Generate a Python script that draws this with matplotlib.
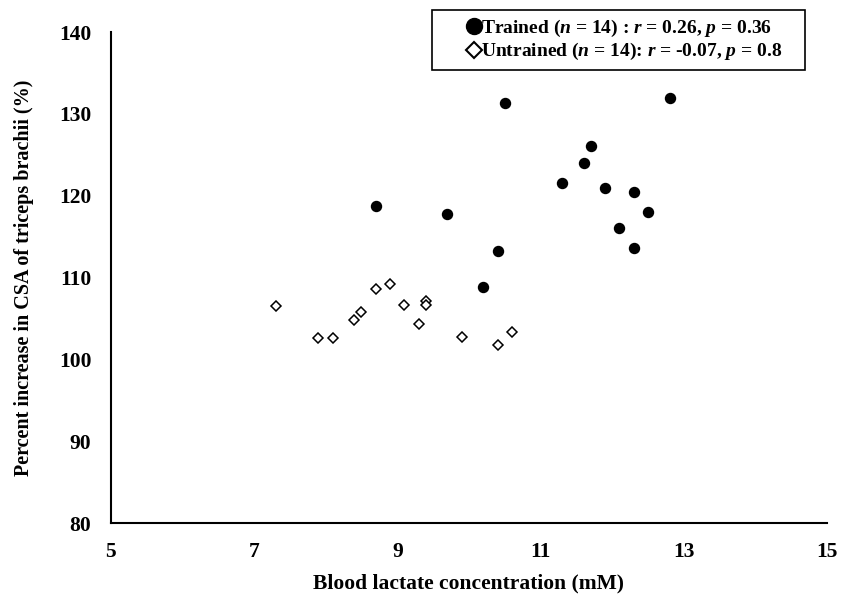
import matplotlib.pyplot as plt
from matplotlib.lines import Line2D

# trained group
trained_lactate = [8.7, 9.7, 10.5, 10.4, 10.2, 11.3, 11.6, 11.7, 11.9, 12.1, 12.3, 12.3, 12.5, 12.8]
trained_csa = [118.7, 117.8, 131.3, 113.2, 108.8, 121.5, 124.0, 126.1, 121.0, 116.1, 120.5, 113.6, 118.0, 132.0]

# untrained group
untrained_lactate = [7.3, 7.9, 8.1, 8.4, 8.5, 8.7, 8.9, 9.1, 9.3, 9.4, 9.4, 9.9, 10.4, 10.6]
untrained_csa = [106.5, 102.6, 102.6, 104.8, 105.8, 108.6, 109.2, 106.6, 104.3, 107.1, 106.7, 102.7, 101.7, 103.4]

x_ticks = [5, 7, 9, 11, 13, 15]
y_ticks = [80, 90, 100, 110, 120, 130, 140]

plt.rcParams['font.family'] = ['Liberation Serif', 'DejaVu Serif']
plt.rcParams['font.weight'] = 'bold'
plt.rcParams['mathtext.fontset'] = 'custom'
plt.rcParams['mathtext.rm'] = 'Liberation Serif:bold'
plt.rcParams['mathtext.it'] = 'Liberation Serif:bold:italic'
plt.rcParams['mathtext.bf'] = 'Liberation Serif:bold'

fig = plt.figure(figsize=(8.45, 5.94), dpi=100)
ax = fig.add_axes([0.131, 0.1195, 0.848, 0.8265])

ax.plot(trained_lactate, trained_csa, 'o', color='black', markersize=7.2, linestyle='none')
ax.plot(untrained_lactate, untrained_csa, 'D', markerfacecolor='white', markeredgecolor='black',
        markeredgewidth=1.1, markersize=5, linestyle='none')

ax.set_xlim(5, 15)
ax.set_ylim(80, 140)
ax.set_xticks(x_ticks)
ax.set_yticks(y_ticks)
ax.tick_params(length=0, labelsize=15.5, pad=14)
for lab in ax.get_xticklabels() + ax.get_yticklabels():
    lab.set_fontweight('bold')

for s in ['top', 'right']:
    ax.spines[s].set_visible(False)
for s in ['left', 'bottom']:
    ax.spines[s].set_linewidth(1.5)

ax.set_xlabel('Blood lactate concentration (mM)', fontsize=15.5, fontweight='bold', labelpad=8)
ax.set_ylabel('Percent increase in CSA of triceps brachii (%)', fontsize=14.5, fontweight='bold', labelpad=18)

handles = [
    Line2D([], [], marker='o', color='black', markersize=11.5, linestyle='none'),
    Line2D([], [], marker='D', markerfacecolor='white', markeredgecolor='black',
           markeredgewidth=1.5, markersize=8.5, linestyle='none'),
]
labels = [
    r'Trained ($n$ = 14) : $r$ = 0.26, $p$ = 0.36' + '    ',
    r'Untrained ($n$ = 14): $r$ = -0.07, $p$ = 0.8' + '    ',
]
leg = fig.legend(handles, labels, loc='upper right', bbox_to_anchor=(0.953, 0.983),
                 fancybox=False, edgecolor='black', framealpha=1, fontsize=14,
                 handletextpad=-1.4, handlelength=3.5, borderpad=0.4, labelspacing=0.12,
                 borderaxespad=0)
leg.get_frame().set_linewidth(1.2)

fig.savefig('out.png', dpi=100)
